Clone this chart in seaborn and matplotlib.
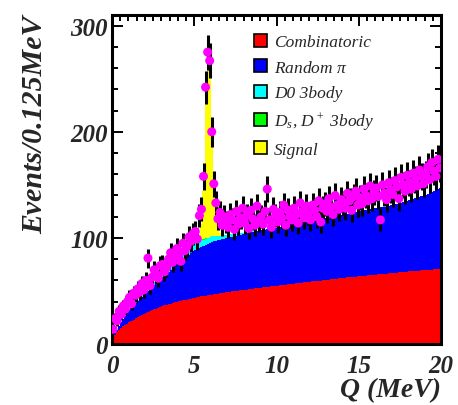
import numpy as np
import pandas as pd
import seaborn as sns
import matplotlib
matplotlib.use("Agg")
import matplotlib.pyplot as plt
from matplotlib.patches import Patch
from matplotlib.ticker import MultipleLocator

# Binning: Q from 0 to 20 MeV in 0.125 MeV bins
q_min, q_max, bin_width = 0.0, 20.0, 0.125

# Fit components (events per bin), one row per MeV
combinatoric = [
    5.0, 8.7, 11.2, 13.2, 15.0, 16.6, 18.0, 19.4,
    20.6, 21.8, 23.0, 24.2, 25.3, 26.4, 27.5, 28.5,
    29.4, 30.2, 31.0, 31.8, 32.6, 33.4, 34.2, 35.0,
    35.8, 36.4, 37.0, 37.6, 38.2, 38.7, 39.2, 39.7,
    40.2, 40.7, 41.1, 41.6, 42.0, 42.4, 42.9, 43.3,
    43.7, 44.1, 44.5, 44.9, 45.3, 45.7, 46.0, 46.4,
    46.7, 47.0, 47.3, 47.6, 47.9, 48.2, 48.5, 48.8,
    49.1, 49.4, 49.6, 49.9, 50.1, 50.4, 50.6, 50.9,
    51.1, 51.4, 51.6, 51.9, 52.1, 52.4, 52.6, 52.9,
    53.1, 53.4, 53.6, 53.9, 54.1, 54.4, 54.6, 54.9,
    55.1, 55.3, 55.6, 55.8, 56.0, 56.3, 56.5, 56.7,
    57.0, 57.2, 57.4, 57.6, 57.9, 58.1, 58.3, 58.6,
    58.8, 59.0, 59.2, 59.5, 59.7, 59.9, 60.1, 60.3,
    60.6, 60.8, 61.0, 61.2, 61.4, 61.7, 61.9, 62.1,
    62.3, 62.5, 62.8, 63.0, 63.2, 63.4, 63.6, 63.9,
    64.1, 64.3, 64.4, 64.6, 64.8, 65.0, 65.2, 65.3,
    65.5, 65.7, 65.9, 66.0, 66.2, 66.4, 66.6, 66.8,
    66.9, 67.1, 67.3, 67.5, 67.6, 67.8, 68.0, 68.2,
    68.4, 68.5, 68.7, 68.9, 69.0, 69.2, 69.4, 69.5,
    69.7, 69.9, 70.0, 70.2, 70.4, 70.5, 70.7, 70.9,
]

random_pi = [
    0.6, 1.5, 2.5, 3.8, 5.4, 6.9, 8.4, 10.0,
    11.4, 12.3, 13.2, 14.1, 14.9, 15.8, 16.7, 17.6,
    18.5, 19.6, 20.6, 21.7, 22.8, 23.8, 24.9, 26.0,
    27.1, 28.3, 29.5, 30.7, 31.8, 33.0, 34.2, 35.4,
    36.5, 37.6, 38.7, 39.7, 40.8, 41.8, 42.9, 44.0,
    44.8, 45.4, 46.0, 46.7, 47.3, 47.9, 48.5, 49.2,
    49.6, 49.8, 50.0, 50.2, 50.3, 50.5, 50.7, 50.9,
    51.1, 51.4, 51.6, 51.9, 52.1, 52.4, 52.6, 52.9,
    53.1, 53.2, 53.3, 53.4, 53.6, 53.7, 53.8, 53.9,
    54.1, 54.2, 54.3, 54.4, 54.6, 54.7, 54.8, 54.9,
    55.1, 55.2, 55.3, 55.5, 55.6, 55.7, 55.8, 56.0,
    56.2, 56.3, 56.5, 56.6, 56.8, 56.9, 57.0, 57.2,
    57.4, 57.5, 57.7, 57.8, 58.0, 58.1, 58.2, 58.4,
    58.6, 58.7, 58.9, 59.0, 59.2, 59.3, 59.5, 59.7,
    59.9, 60.0, 60.2, 60.3, 60.4, 60.6, 60.7, 60.9,
    61.1, 61.3, 61.5, 61.7, 61.9, 62.1, 62.3, 62.5,
    62.7, 62.9, 63.1, 63.2, 63.4, 63.6, 63.8, 64.0,
    64.3, 64.6, 65.0, 65.3, 65.6, 65.9, 66.3, 66.6,
    66.9, 67.4, 67.8, 68.3, 68.8, 69.2, 69.7, 70.2,
    70.8, 71.5, 72.2, 72.9, 73.6, 74.3, 75.0, 75.7,
]

d0_3body = [
    0.0, 0.0, 0.0, 0.1, 0.1, 0.2, 0.3, 0.4,
    0.5, 0.6, 0.7, 0.8, 0.9, 1.0, 1.2, 1.4,
    1.6, 1.8, 2.0, 2.2, 2.4, 2.6, 2.8, 3.0,
    3.2, 3.4, 3.6, 3.8, 4.0, 4.2, 4.4, 4.6,
    4.8, 5.0, 5.2, 5.4, 5.6, 5.8, 5.9, 6.0,
    6.1, 6.1, 6.1, 6.0, 5.9, 5.8, 5.6, 5.4,
    5.1, 4.8, 4.5, 4.2, 3.9, 3.6, 3.3, 3.0,
    2.7, 2.5, 2.3, 2.1, 1.9, 1.7, 1.5, 1.3,
    1.1, 1.0, 0.9, 0.8, 0.7, 0.6, 0.5, 0.4,
    0.3, 0.2, 0.2, 0.1, 0.1, 0.0, 0.0, 0.0,
] + [0.0] * 80

dsdp_3body = [
    0.0, 0.0, 0.0, 0.0, 0.1, 0.1, 0.1, 0.1,
    0.2, 0.2, 0.2, 0.2, 0.3, 0.3, 0.3, 0.3,
    0.4, 0.4, 0.4, 0.4, 0.5, 0.5, 0.5, 0.5,
    0.5, 0.5, 0.5, 0.5, 0.5, 0.5, 0.5, 0.5,
    0.5, 0.5, 0.5, 0.5, 0.5, 0.5, 0.5, 0.5,
    0.4, 0.4, 0.4, 0.4, 0.3, 0.3, 0.3, 0.3,
    0.2, 0.2, 0.2, 0.2, 0.1, 0.1, 0.1, 0.1,
] + [0.0] * 104

signal = [0.0] * 40 + [
    0.0, 0.5, 4.0, 15.0, 45.0, 130.0, 162.0, 150.0,
    95.0, 45.0, 18.0, 6.0, 2.0, 0.5, 0.0, 0.0,
] + [0.0] * 104

# Observed events per bin
observed = [
    14, 24, 22, 31, 28, 36, 33, 40,
    44, 38, 48, 46, 52, 49, 57, 51,
    60, 81, 55, 63, 70, 66, 62, 74,
    75, 68, 72, 80, 86, 77, 83, 90,
    84, 78, 95, 88, 92, 101, 97, 104,
    106, 99, 121, 127, 158, 242, 275, 267,
    200, 151, 133, 118, 124, 112, 120, 115,
    110, 122, 117, 108, 125, 113, 119, 128,
    114, 121, 109, 126, 118, 112, 130, 116,
    120, 113, 125, 146, 117, 110, 127, 121,
    115, 124, 119, 131, 112, 126, 120, 117,
    128, 122, 114, 133, 125, 119, 130, 123,
    117, 131, 126, 120, 135, 115, 128, 132,
    125, 137, 129, 122, 140, 131, 127, 136,
    133, 128, 142, 135, 126, 139, 144, 131,
    138, 132, 146, 140, 135, 149, 137, 143,
    147, 139, 117, 150, 142, 136, 152, 145,
    141, 154, 148, 137, 157, 150, 144, 159,
    152, 146, 161, 155, 149, 164, 158, 151,
    160, 167, 155, 171, 163, 158, 174, 166,
]

labels = ["Combinatoric", r"Random $\pi$", "D0 3body",
          r"D$_s$, D$^+$ 3body", "Signal"]
colors = ["#ff0000", "#0000ff", "#00ffff", "#00ff00", "#ffff00"]

n_bins = int(round((q_max - q_min) / bin_width))
edges = q_min + bin_width * np.arange(n_bins + 1)
centers = 0.5 * (edges[:-1] + edges[1:])

components = np.array([combinatoric, random_pi, d0_3body, dsdp_3body, signal])
stacked = np.cumsum(components, axis=0)

sns.set_theme(style="ticks")
plt.rcParams["font.family"] = ["Liberation Serif", "DejaVu Serif"]
plt.rcParams["mathtext.fontset"] = "custom"
plt.rcParams["mathtext.rm"] = "Liberation Serif:italic"
plt.rcParams["mathtext.it"] = "Liberation Serif:italic"

fig = plt.figure(figsize=(4.58, 4.06), dpi=100)
ax = fig.add_axes([0.2445, 0.150, 0.7185, 0.8106])

# Stacked fit components: draw cumulative levels from the top down
for i in range(len(labels) - 1, -1, -1):
    df = pd.DataFrame({"Q": centers, "level": stacked[i]})
    sns.histplot(data=df, x="Q", weights="level", bins=n_bins,
                 binrange=(q_min, q_max), element="step", fill=True,
                 color=colors[i], alpha=1.0, linewidth=0, ax=ax)

# Data points with statistical errors
obs = np.array(observed, dtype=float)
ax.errorbar(centers, obs, yerr=np.sqrt(obs), xerr=bin_width / 2,
            fmt="none", ecolor="black", elinewidth=2.2, capsize=0, zorder=3)
sns.scatterplot(x=centers, y=obs, color="#ff00ff", s=42, edgecolor="none",
                linewidth=0, ax=ax, zorder=4)

ax.set_xlim(q_min, q_max)
ax.set_ylim(0, 310)
ax.xaxis.set_major_locator(MultipleLocator(5))
ax.xaxis.set_minor_locator(MultipleLocator(0.5))
ax.yaxis.set_major_locator(MultipleLocator(100))
ax.yaxis.set_minor_locator(MultipleLocator(20))
ax.tick_params(which="both", direction="in", top=True, right=True,
               color="black", width=1.4)
ax.tick_params(which="major", length=8)
ax.tick_params(which="minor", length=4)
ax.tick_params(axis="x", which="major", pad=7)
ax.tick_params(axis="y", which="major", pad=3)
for lab in ax.get_xticklabels() + ax.get_yticklabels():
    lab.set_fontsize(18)
    lab.set_fontstyle("italic")
    lab.set_fontweight("bold")
for sp in ax.spines.values():
    sp.set_linewidth(2.2)
    sp.set_color("black")
ax.grid(False)

ax.set_xlabel("Q (MeV)", fontsize=20, fontstyle="italic", fontweight="bold",
              loc="right", labelpad=0)
ax.set_ylabel("Events/0.125MeV", fontsize=21.5, fontstyle="italic",
              fontweight="bold", loc="top", labelpad=16)

handles = [Patch(facecolor=c, edgecolor="black", linewidth=1.2) for c in colors]
leg = ax.legend(handles, labels, loc="upper left",
                bbox_to_anchor=(0.385, 0.99), frameon=False,
                handlelength=0.75, handleheight=0.75, handletextpad=0.4,
                labelspacing=0.52, prop={"family": "Liberation Serif",
                                         "style": "italic", "size": 12.5})

fig.savefig("out.png", dpi=100)
